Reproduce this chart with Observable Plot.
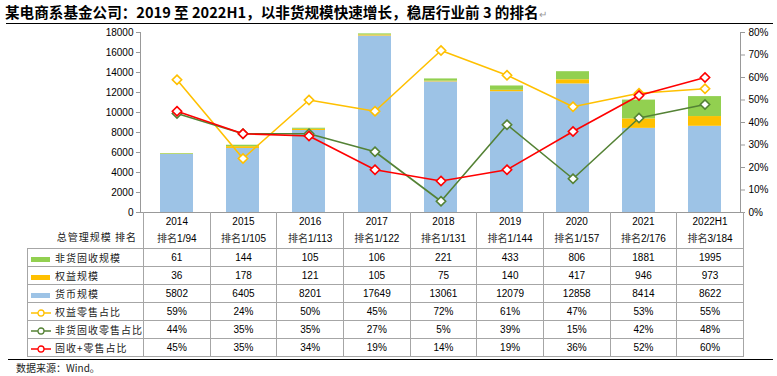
<!DOCTYPE html>
<html><head><meta charset="utf-8">
<script src="https://cdn.jsdelivr.net/npm/d3@7"></script>
<script src="https://cdn.jsdelivr.net/npm/@observablehq/plot@0.6"></script>
<style>
body{margin:0;width:777px;height:376px;position:relative;overflow:hidden;background:#fff;font-family:"Noto Sans CJK SC",sans-serif;color:#000;}
#title{position:absolute;left:5px;top:3px;font-size:14.6px;font-weight:bold;line-height:18px;white-space:nowrap;}
#title .pm{font-weight:normal;font-size:10px;color:#999;}
#tline{position:absolute;left:6px;top:23px;width:767px;border-top:1.5px solid #000;}
#chart{position:absolute;left:0;top:24px;}
#tbl{position:absolute;left:27px;top:212px;border-collapse:collapse;table-layout:fixed;font-family:"Liberation Sans",sans-serif;font-size:10px;}
#tbl td{border:1px solid #a6a6a6;text-align:center;padding:0;height:17px;white-space:nowrap;overflow:hidden;}
#tbl tr.h td{height:33px;border-top:none;line-height:16px;}
#tbl tr.h td.lab{border-left:none;border-top:none;border-bottom:1px solid #a6a6a6;text-align:right;vertical-align:bottom;padding:0 6px 3px 0;letter-spacing:1px;}
#tbl td.lab{text-align:left;font-family:"Noto Sans CJK SC",sans-serif;font-size:10px;letter-spacing:1px;color:#222;}
#tbl .cj{font-family:"Noto Sans CJK SC",sans-serif;color:#333;}
.sw{display:inline-block;width:19px;height:5px;margin:0 5px 0 3px;vertical-align:middle;}
.ls{display:inline-block;width:20px;height:10px;margin:0 4px 0 3px;vertical-align:middle;}
#bline{position:absolute;left:8px;top:359px;width:765px;border-top:1.5px solid #000;}
#src{position:absolute;left:16px;top:361px;font-size:10px;line-height:13px;color:#222;}
</style></head>
<body>
<div id="title">某电商系基金公司：2019 至 2022H1，以非货规模快速增长，稳居行业前 3 的排名<span class="pm">↵</span></div>
<div id="tline"></div>
<div id="chart"></div>
<div id="tblwrap"></div>
<div id="bline"></div>
<div id="src">数据来源：Wind。</div>
<script>
const periods = ["2014","2015","2016","2017","2018","2019","2020","2021","2022H1"];
const ranks = ["1/94","1/105","1/113","1/122","1/131","1/144","1/157","2/176","3/184"];
const nonMoneyFixed = [61,144,105,106,221,433,806,1881,1995];
const equity = [36,178,121,105,75,140,417,946,973];
const money = [5802,6405,8201,17649,13061,12079,12858,8414,8622];
const equityRetail = [59,24,50,45,72,61,47,53,55];
const fixedRetail = [44,35,35,27,5,39,15,42,48];
const fixedPlusRetail = [45,35,34,19,14,19,36,52,60];

const barSeries = [
  {name:"货币规模", values:money, color:"#9dc3e6"},
  {name:"权益规模", values:equity, color:"#ffc000"},
  {name:"非货固收规模", values:nonMoneyFixed, color:"#92d050"}
];
const lineSeries = [
  {name:"权益零售占比", values:equityRetail, color:"#ffc000"},
  {name:"非货固收零售占比", values:fixedRetail, color:"#548235"},
  {name:"固收+零售占比", values:fixedPlusRetail, color:"#ff0000"}
];
const leftMax = 18000, rightMax = 80, k = leftMax/rightMax;

const barData = barSeries.flatMap(s => s.values.map((v,i)=>({period:periods[i], series:s.name, value:v})));
const lineMarks = lineSeries.flatMap(s => {
  const d = s.values.map((v,i)=>({period:periods[i], v}));
  return [
    Plot.line(d,{x:"period", y:d=>d.v*k, stroke:s.color, strokeWidth:1.6}),
    Plot.dot(d,{x:"period", y:d=>d.v*k, symbol:"diamond2", r:4.2, fill:"#fff", stroke:s.color, strokeWidth:1.6})
  ];
});

const chart = Plot.plot({
  width:777, height:192, marginTop:8, marginBottom:4, marginLeft:140, marginRight:37,
  x:{domain:periods, paddingInner:0.5, paddingOuter:0.25, axis:null},
  y:{domain:[0,leftMax], axis:null},
  color:{domain:barSeries.map(s=>s.name), range:barSeries.map(s=>s.color)},
  style:{fontFamily:"Liberation Sans, sans-serif", fontSize:"10px", color:"#000", background:"transparent", overflow:"visible"},
  marks:[
    Plot.barY(barData,{x:"period", y:"value", fill:"series"}),
    Plot.ruleY([0],{stroke:"#999"}),
    Plot.frame({anchor:"left", stroke:"#999"}),
    Plot.frame({anchor:"right", stroke:"#999"}),
    Plot.axisY(d3.range(0,leftMax+1,2000),{anchor:"left", tickFormat:d=>String(d), tickSize:4, tickPadding:3, stroke:"#999", fill:"#000", label:null}),
    Plot.axisY(d3.range(0,rightMax+1,10).map(p=>p*k),{anchor:"right", tickFormat:d=>Math.round(d/k)+"%", tickSize:4, tickPadding:4, stroke:"#999", fill:"#000", label:null}),
    ...lineMarks
  ]
});
document.getElementById("chart").appendChild(chart);

// data table
let html = '<table id="tbl"><colgroup><col style="width:113px">' + periods.map(()=>'<col style="width:66.67px">').join('') + '</colgroup>';
html += '<tr class="h"><td class="lab">总管理规模 排名</td>' + periods.map((p,i)=>`<td>${p}<br><span class="cj">排名</span>${ranks[i]}</td>`).join('') + '</tr>';
[...barSeries].reverse().forEach(s=>{
  html += `<tr><td class="lab"><span class="sw" style="background:${s.color}"></span>${s.name}</td>` + s.values.map(v=>`<td>${v}</td>`).join('') + '</tr>';
});
lineSeries.forEach(s=>{
  html += `<tr><td class="lab"><svg class="ls" viewBox="0 0 20 10"><line x1="0" y1="5" x2="20" y2="5" stroke="${s.color}" stroke-width="1.5"/><circle cx="10" cy="5" r="3" fill="#fff" stroke="${s.color}" stroke-width="1.3"/></svg>${s.name}</td>` + s.values.map(v=>`<td>${v}%</td>`).join('') + '</tr>';
});
html += '</table>';
document.getElementById("tblwrap").innerHTML = html;
</script>
</body></html>
